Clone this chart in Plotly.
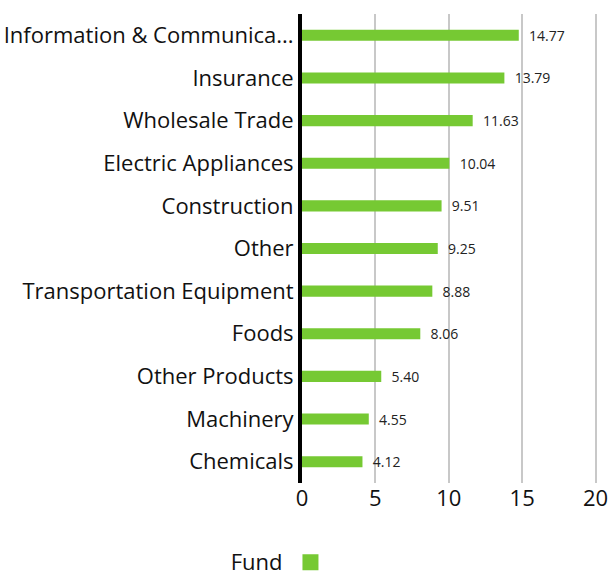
import plotly.graph_objects as go

categories = ["Information & Communica...", "Insurance", "Wholesale Trade", "Electric Appliances",
              "Construction", "Other", "Transportation Equipment", "Foods", "Other Products",
              "Machinery", "Chemicals"]
values = [14.77, 13.79, 11.63, 10.04, 9.51, 9.25, 8.88, 8.06, 5.40, 4.55, 4.12]
labels = ["14.77", "13.79", "11.63", "10.04", "9.51", "9.25", "8.88", "8.06", "5.40", "4.55", "4.12"]
x_ticks = [0, 5, 10, 15, 20]
series_name = "Fund"
bar_color = "#76c933"

fig = go.Figure()
fig.add_trace(go.Bar(
    y=categories, x=values, orientation="h", name=series_name,
    marker=dict(color=bar_color, line=dict(width=0)),
    width=0.26,
    text=labels, texttemplate="\u00a0\u00a0%{text}",
    textposition="outside", cliponaxis=False, constraintext="none",
    textfont=dict(family="Open Sans", size=14, color="#222222"),
    showlegend=False,
))
# legend entry (symbol only; series name shown as legend title to its left)
fig.add_trace(go.Scatter(
    x=[None], y=[None], mode="markers", name=" ",
    marker=dict(symbol="square", size=20, color=bar_color),
    showlegend=True,
))

fig.update_layout(
    width=608, height=574,
    margin=dict(l=302, r=10.5, t=14, b=91, autoexpand=False),
    paper_bgcolor="white", plot_bgcolor="white",
    font=dict(family="Open Sans", color="#111111"),
    xaxis=dict(range=[0, 20.1], tickvals=x_ticks, showgrid=True, gridcolor="#c8c8c8", gridwidth=2,
               zeroline=False, showline=False, ticks="", automargin=False,
               ticklabeloverflow="allow",
               tickfont=dict(size=22, color="#111111")),
    yaxis=dict(autorange="reversed", showgrid=False, ticks="", showline=True, linecolor="black",
               linewidth=4, automargin=False, ticklabeloverflow="allow",
               tickfont=dict(size=22, color="#111111")),
    legend=dict(orientation="h", xref="container", yref="container",
                x=0.469, xanchor="center", y=0.02, yanchor="middle",
                title=dict(text=series_name, side="left", font=dict(size=22, color="#111111")),
                font=dict(size=22)),
    bargap=0.74,
)

fig.write_html("out.html", config={"displayModeBar": False},
               post_script="document.body.style.margin='0';")
